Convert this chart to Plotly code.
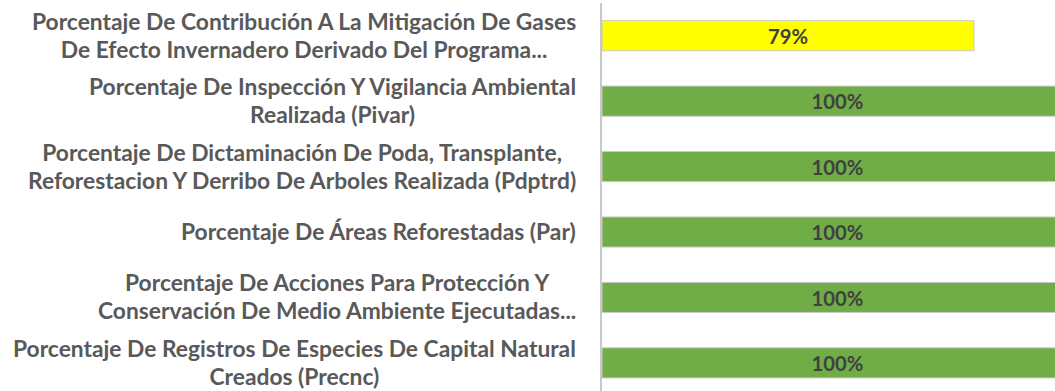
import plotly.graph_objects as go

# Indicator names (top to bottom), one list of lines per category
categories = [
    ["Porcentaje De Contribución A La Mitigación De Gases",
     "De Efecto Invernadero Derivado Del Programa..."],
    ["Porcentaje De Inspección Y Vigilancia Ambiental",
     "Realizada (Pivar)"],
    ["Porcentaje De Dictaminación De Poda, Transplante,",
     "Reforestacion Y Derribo De Arboles Realizada (Pdptrd)"],
    ["Porcentaje De Áreas Reforestadas (Par)"],
    ["Porcentaje De Acciones Para Protección Y",
     "Conservación De Medio Ambiente Ejecutadas..."],
    ["Porcentaje De Registros De Especies De Capital Natural",
     "Creados (Precnc)"],
]
values = [79, 100, 100, 100, 100, 100]
bar_colors = ["#FFFF00", "#70AD47", "#70AD47", "#70AD47", "#70AD47", "#70AD47"]
value_labels = [f"{v}%" for v in values]

keys = [f"c{i}" for i in range(len(categories))]

LINE_GAP = 28            # distance between wrapped label lines (px)
GLYPH_SIZE = 22.8        # visible label font size (px)

fig = go.Figure(
    go.Bar(
        y=keys,
        x=values,
        orientation="h",
        marker=dict(color=bar_colors, line=dict(color="#C9C9C9", width=1)),
        text=value_labels,
        textposition="inside",
        insidetextanchor="middle",
        textfont=dict(family="Lato", size=21, color="#404040", weight="bold"),
        hoverinfo="skip",
    )
)

# Category names: centred multi-line blocks right-aligned next to the axis.
# The annotation font size sets the line pitch (1.3 em); the glyphs themselves
# are sized through an inline span.
for k, lines in zip(keys, categories):
    text = "<br>".join(
        f"<span style='font-size:{GLYPH_SIZE}px'>{ln}</span>" for ln in lines
    )
    fig.add_annotation(
        x=0, xref="paper", xanchor="right", xshift=-24,
        y=k, yref="y", yshift=1,
        text=text, showarrow=False, align="center",
        font=dict(family="Lato", size=LINE_GAP / 1.3, color="#595959", weight="bold"),
    )

fig.update_layout(
    width=1055, height=391,
    margin=dict(l=602, r=0, t=3, b=0),
    paper_bgcolor="white", plot_bgcolor="white",
    bargap=0.54,
    showlegend=False,
    xaxis=dict(range=[0, 96.2], visible=False, fixedrange=True),
    yaxis=dict(
        categoryorder="array", categoryarray=keys,
        range=[5.43, -0.5],
        showticklabels=False, ticks="",
        showgrid=False, zeroline=False,
        showline=True, linecolor="#C8C8C8", linewidth=2,
    ),
)

fig.write_html("out.html")
